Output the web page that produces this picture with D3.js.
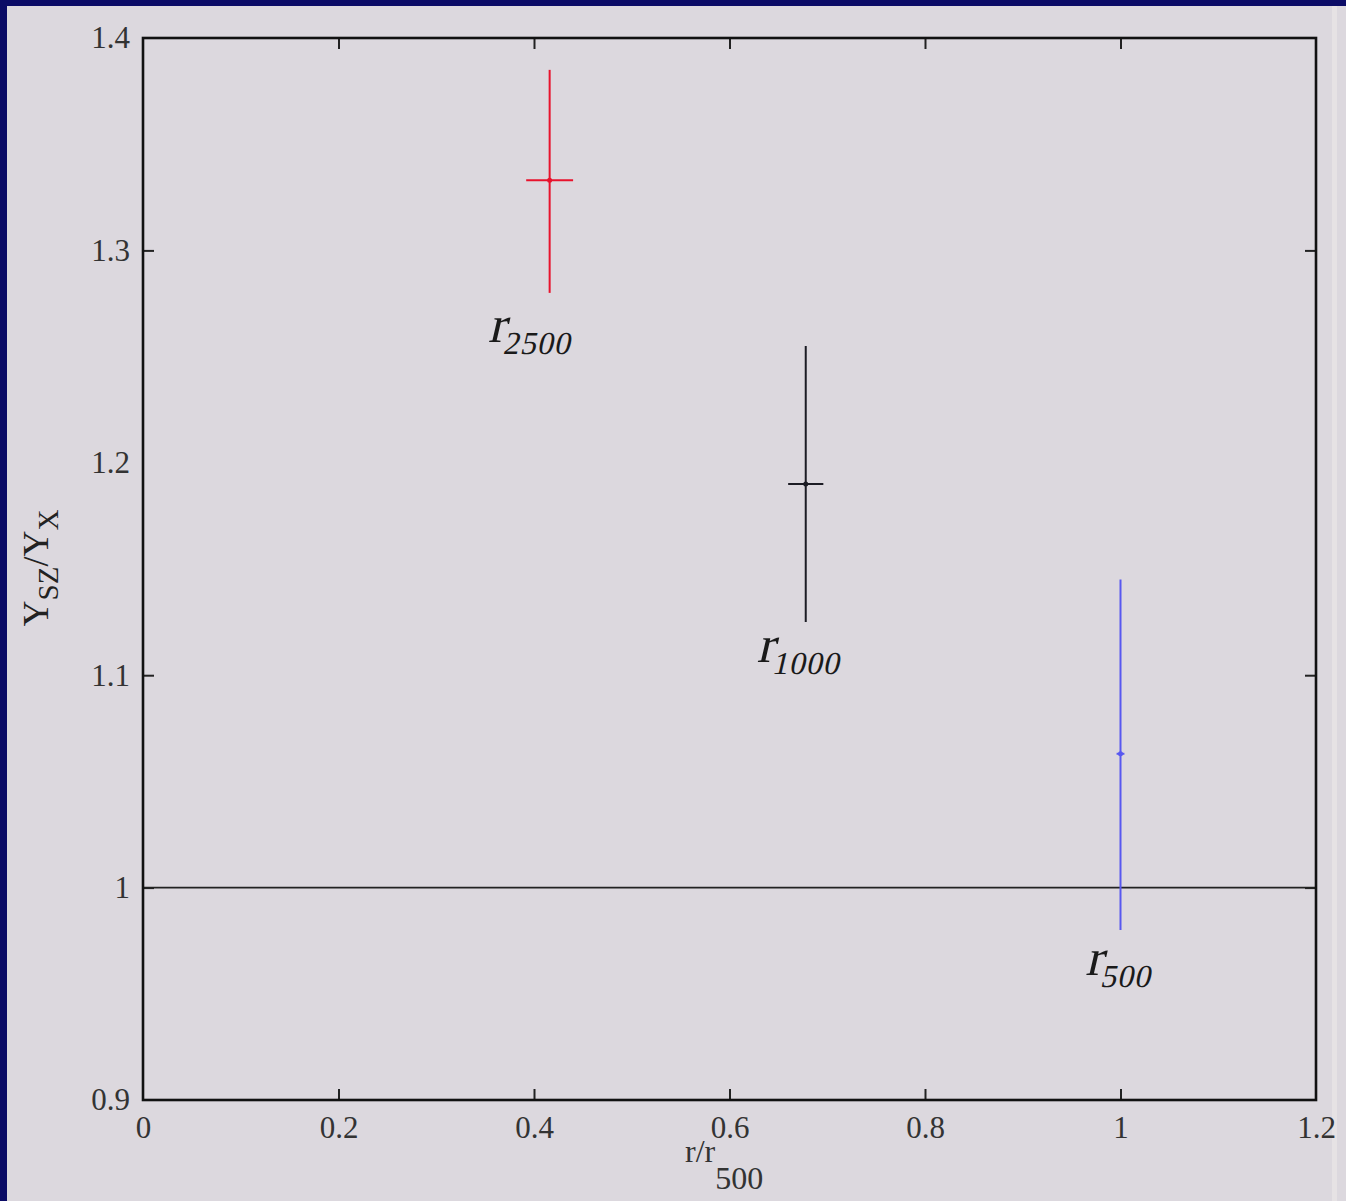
<!DOCTYPE html>
<html>
<head>
<meta charset="utf-8">
<script src="https://cdn.jsdelivr.net/npm/d3@7"></script>
<style>
  html, body { margin: 0; padding: 0; background: #0b0b66; }
  svg { display: block; }
</style>
</head>
<body>
<script>
// data
const radii = ["2500", "1000", "500"];
const xVals = [0.416, 0.678, 1.0];
const yVals = [1.333, 1.190, 1.063];
const yLow = [1.280, 1.125, 0.980];
const yHigh = [1.385, 1.255, 1.145];
const xErr = [0.024, 0.018, 0.004];
const labelX = [0.353, 0.628, 0.964];
const labelY = [1.257, 1.106, 0.959];
const xTicks = [0, 0.2, 0.4, 0.6, 0.8, 1, 1.2];
const yTicks = [0.9, 1, 1.1, 1.2, 1.3, 1.4];
const refLine = 1;

const colors = ["#e8122c", "#1c1c24", "#5858f0"];
const serif = "'Liberation Serif', 'Times New Roman', 'DejaVu Serif', serif";

const W = 1346, H = 1201;
const margin = { left: 143, top: 38, right: 30, bottom: 101 };

const svg = d3.select("body").append("svg")
  .attr("width", W).attr("height", H)
  .style("font-family", serif);

// navy frame + pale background
svg.append("rect").attr("x", 7).attr("y", 6).attr("width", W - 7).attr("height", H - 6)
  .attr("fill", "#dcd8de");
svg.append("rect").attr("x", 1332).attr("y", 6).attr("width", 5).attr("height", H - 6)
  .attr("fill", "#e6e2e4");

const x = d3.scaleLinear().domain([0, 1.2]).range([margin.left, W - margin.right]);
const y = d3.scaleLinear().domain([0.9, 1.4]).range([H - margin.bottom, margin.top]);

const g = svg.append("g");

// reference line at 1
g.append("line")
  .attr("x1", x(0)).attr("x2", x(1.2))
  .attr("y1", y(refLine)).attr("y2", y(refLine))
  .attr("stroke", "#222").attr("stroke-width", 1.6);

// error bars
radii.forEach((r, i) => {
  g.append("line")
    .attr("x1", x(xVals[i])).attr("x2", x(xVals[i]))
    .attr("y1", y(yLow[i])).attr("y2", y(yHigh[i]))
    .attr("stroke", colors[i]).attr("stroke-width", 2);
  g.append("line")
    .attr("x1", x(xVals[i] - xErr[i])).attr("x2", x(xVals[i] + xErr[i]))
    .attr("y1", y(yVals[i])).attr("y2", y(yVals[i]))
    .attr("stroke", colors[i]).attr("stroke-width", 2);
  g.append("circle")
    .attr("cx", x(xVals[i])).attr("cy", y(yVals[i])).attr("r", 2.5)
    .attr("fill", colors[i]);

  // serif italic faked with a skew so it stays a Times look
  const t = g.append("text")
    .attr("transform", `translate(${x(labelX[i])},${y(labelY[i])}) skewX(-13)`)
    .attr("font-family", serif)
    .attr("fill", "#1a1a1a");
  t.append("tspan").attr("font-size", 52).text("r");
  t.append("tspan").attr("font-size", 32).attr("dy", 12)
    .attr("letter-spacing", 1).text(r);
});

// axes, ticks inward on all four sides
const tickLen = 11;
const axisBottom = d3.axisBottom(x).tickValues(xTicks).tickSize(-tickLen).tickPadding(16)
  .tickFormat(d3.format("~g"));
const axisTop = d3.axisTop(x).tickValues(xTicks).tickSize(-tickLen).tickFormat("");
const axisLeft = d3.axisLeft(y).tickValues(yTicks).tickSize(-tickLen).tickPadding(13)
  .tickFormat(d3.format("~g"));
const axisRight = d3.axisRight(y).tickValues(yTicks).tickSize(-tickLen).tickFormat("");

function style(sel) {
  sel.select(".domain").remove();
  sel.attr("font-family", serif);
  sel.selectAll(".tick line").attr("stroke", "#222").attr("stroke-width", 2);
  sel.selectAll(".tick text").attr("font-size", 31).attr("fill", "#333");
}

svg.append("g").attr("transform", `translate(0,${y(0.9)})`).call(axisBottom).call(style);
svg.append("g").attr("transform", `translate(0,${y(1.4)})`).call(axisTop).call(style);
svg.append("g").attr("transform", `translate(${x(0)},0)`).call(axisLeft).call(style);
svg.append("g").attr("transform", `translate(${x(1.2)},0)`).call(axisRight).call(style);

// no tick marks on the frame corners
svg.selectAll(".tick").filter(d => d === 0 || d === 1.2 || d === 0.9 || d === 1.4)
  .select("line").remove();

// frame
svg.append("rect")
  .attr("x", x(0)).attr("y", y(1.4))
  .attr("width", x(1.2) - x(0)).attr("height", y(0.9) - y(1.4))
  .attr("fill", "none").attr("stroke", "#111").attr("stroke-width", 2.6);

// axis titles
const xt = svg.append("text")
  .attr("x", 685).attr("y", 1162).attr("font-size", 32).attr("fill", "#333")
  .attr("font-family", serif);
xt.append("tspan").text("r/r");
xt.append("tspan").attr("dy", 27).text("500");

const yt = svg.append("text")
  .attr("transform", "translate(48,568) rotate(-90)")
  .attr("text-anchor", "middle").attr("font-size", 36).attr("fill", "#222")
  .attr("font-family", serif);
yt.append("tspan").text("Y");
yt.append("tspan").attr("font-size", 29).attr("dy", 10).text("SZ");
yt.append("tspan").attr("dy", -10).text("/Y");
yt.append("tspan").attr("font-size", 29).attr("dy", 10).text("X");
</script>
</body>
</html>
